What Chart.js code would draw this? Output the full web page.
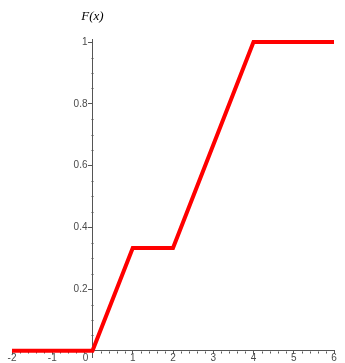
<!DOCTYPE html>
<html>
<head>
<meta charset="utf-8">
<script src="https://cdn.jsdelivr.net/npm/chart.js@4/dist/chart.umd.min.js"></script>
<style>
  html, body { margin: 0; padding: 0; background: #ffffff; }
  #wrap { width: 345px; height: 363px; }
</style>
</head>
<body>
<div id="wrap"><canvas id="c" width="345" height="363"></canvas></div>
<script>
// Piecewise-linear distribution function F(x)
const xValues = [-2, 0, 1, 2, 4, 6];
const fValues = [0, 0, 0.333, 0.333, 1, 1];

// Axis ticks
const xTickValues = [-2, -1, 0, 1, 2, 3, 4, 5, 6];
const yTickValues = [0.2, 0.4, 0.6, 0.8, 1];
const xMinorStep = 0.2;
const yMinorStep = 0.05;

const axisColor = '#555555';
const labelColor = '#4a4a4a';

const points = xValues.map((v, i) => ({ x: v, y: fValues[i] }));

// Small tick marks between the labelled ticks, plus the F(x) heading
const decorations = {
  id: 'decorations',
  beforeDatasetsDraw(chart) {
    const { ctx, scales: { x, y } } = chart;
    const ax = Math.round(x.getPixelForValue(0)) + 0.5;
    const ay = Math.round(y.getPixelForValue(0)) + 0.5;
    ctx.save();
    ctx.strokeStyle = axisColor;
    ctx.lineWidth = 1;
    ctx.beginPath();
    for (let k = 1; k * yMinorStep <= y.max + 1e-9; k++) {
      const v = k * yMinorStep;
      if (Math.abs(v / 0.2 - Math.round(v / 0.2)) < 1e-6) continue;
      const py = Math.round(y.getPixelForValue(v)) + 0.5;
      ctx.moveTo(ax - 2, py);
      ctx.lineTo(ax, py);
    }
    for (let k = 0; x.min + k * xMinorStep <= x.max + 1e-9; k++) {
      const v = x.min + k * xMinorStep;
      if (Math.abs(v - Math.round(v)) < 1e-6) continue;
      const px = Math.round(x.getPixelForValue(v)) + 0.5;
      ctx.moveTo(px, ay);
      ctx.lineTo(px, ay + 2);
    }
    ctx.stroke();
    ctx.restore();
  },
  afterDraw(chart) {
    const { ctx, scales: { x } } = chart;
    ctx.save();
    ctx.fillStyle = '#000000';
    ctx.font = 'italic 13px "Liberation Serif", "DejaVu Serif", serif';
    ctx.textAlign = 'center';
    ctx.textBaseline = 'middle';
    ctx.fillText('F(x)', x.getPixelForValue(0), 17);
    ctx.restore();
  }
};

new Chart(document.getElementById('c'), {
  type: 'scatter',
  data: {
    datasets: [{
      data: points,
      showLine: true,
      borderColor: '#ff0000',
      backgroundColor: '#ff0000',
      borderWidth: 4,
      pointRadius: 0,
      tension: 0,
      borderJoinStyle: 'miter',
      borderCapStyle: 'butt'
    }]
  },
  options: {
    responsive: false,
    animation: false,
    events: [],
    layout: { padding: { left: 12, right: 11, top: 39, bottom: 5 } },
    plugins: { legend: { display: false }, tooltip: { enabled: false }, title: { display: false } },
    scales: {
      x: {
        type: 'linear',
        position: { y: 0 },
        min: -2,
        max: 6,
        afterBuildTicks(scale) { scale.ticks = xTickValues.map(v => ({ value: v })); },
        afterFit(scale) { scale.height = 0; },
        grid: { drawOnChartArea: false, drawTicks: true, tickLength: 3, tickColor: axisColor, tickWidth: 1 },
        border: { display: true, color: axisColor, width: 1 },
        ticks: {
          color: labelColor,
          padding: -2,
          maxRotation: 0,
          autoSkip: false,
          font: { family: '"Liberation Sans", Arial, sans-serif', size: 10 },
          callback: (v) => (v === 0 ? '0\u2002\u2002\u2009\u2009' : String(v))
        }
      },
      y: {
        type: 'linear',
        position: { x: 0 },
        min: -0.02,
        max: 1.01,
        afterBuildTicks(scale) { scale.ticks = yTickValues.map(v => ({ value: v })); },
        afterFit(scale) { scale.width = 0; },
        grid: { drawOnChartArea: false, drawTicks: true, tickLength: 4, tickColor: axisColor, tickWidth: 1 },
        border: { display: true, color: axisColor, width: 1 },
        ticks: {
          color: labelColor,
          padding: 0,
          autoSkip: false,
          font: { family: '"Liberation Sans", Arial, sans-serif', size: 10 },
          callback: (v) => String(v) + '\u2002'
        }
      }
    }
  },
  plugins: [decorations]
});
</script>
</body>
</html>
